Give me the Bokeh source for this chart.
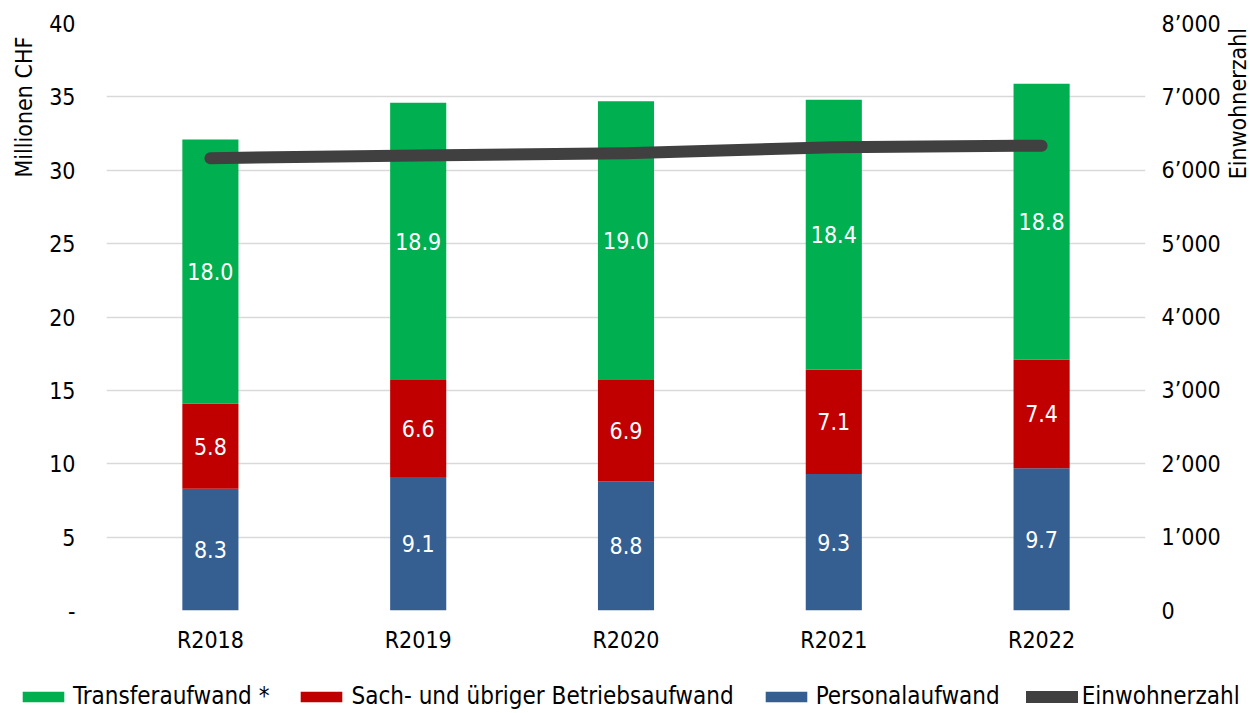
from bokeh.plotting import figure
from bokeh.layouts import column, row
from bokeh.models import (ColumnDataSource, FactorRange, Range1d, LinearAxis,
                          FixedTicker, LabelSet, Label, Legend, LegendItem)
from bokeh.core.properties import value
from bokeh.embed import file_html
from bokeh.resources import INLINE
import math

# Data (Millionen CHF, Einwohnerzahl)
years = ["R2018", "R2019", "R2020", "R2021", "R2022"]
personal = [8.3, 9.1, 8.8, 9.3, 9.7]
sach = [5.8, 6.6, 6.9, 7.1, 7.4]
transfer = [18.0, 18.9, 19.0, 18.4, 18.8]
einwohner = [6165, 6200, 6230, 6315, 6335]

left_ticks = [0, 5, 10, 15, 20, 25, 30, 35, 40]
left_labels = ["-", "5", "10", "15", "20", "25", "30", "35", "40"]
right_ticks = [0, 1000, 2000, 3000, 4000, 5000, 6000, 7000, 8000]
right_labels = ["0", "1\u2019000", "2\u2019000", "3\u2019000", "4\u2019000",
                "5\u2019000", "6\u2019000", "7\u2019000", "8\u2019000"]
series_names = ["Transferaufwand *", "Sach- und \u00fcbriger Betriebsaufwand",
                "Personalaufwand", "Einwohnerzahl"]

GREEN = "#00B050"
RED = "#C00000"
BLUE = "#355E91"
DARK = "#404040"
FONT = "DejaVu Sans Condensed, DejaVu Sans, sans-serif"
FS = "23px"

TOP_H = 670      # height of the chart row
LEFT_W = 40      # strip holding the left axis title
RIGHT_W = 28     # strip holding the right axis title
MAIN_W = 1250 - LEFT_W - RIGHT_W

src = ColumnDataSource(dict(
    year=years, personal=personal, sach=sach, transfer=transfer, einwohner=einwohner,
    y_personal=[v / 2 for v in personal],
    y_sach=[a + b / 2 for a, b in zip(personal, sach)],
    y_transfer=[a + b + c / 2 for a, b, c in zip(personal, sach, transfer)],
    t_personal=[f"{v:.1f}" for v in personal],
    t_sach=[f"{v:.1f}" for v in sach],
    t_transfer=[f"{v:.1f}" for v in transfer],
))

p = figure(x_range=FactorRange(*years), y_range=Range1d(0, 40),
           width=MAIN_W, height=TOP_H, frame_width=1039, frame_height=587,
           output_backend="svg", toolbar_location=None,
           min_border_left=66, min_border_right=MAIN_W - 66 - 1039,
           min_border_top=23, min_border_bottom=TOP_H - 23 - 587)
p.outline_line_color = None
p.background_fill_color = "white"
p.border_fill_color = "white"

p.extra_y_ranges = {"pop": Range1d(0, 8000)}

bars = p.vbar_stack(["personal", "sach", "transfer"], x="year", width=0.27,
                    color=[BLUE, RED, GREEN], line_color=None, source=src)

line = p.line(x="year", y="einwohner", y_range_name="pop", source=src,
              line_color=DARK, line_width=12, line_cap="round", line_join="round")

for ycol, tcol in (("y_personal", "t_personal"), ("y_sach", "t_sach"),
                   ("y_transfer", "t_transfer")):
    p.add_layout(LabelSet(x="year", y=ycol, text=tcol, source=src,
                          text_color="white", text_font=value(FONT),
                          text_font_size=value(FS),
                          text_align="center", text_baseline="middle"))


def style_axis(ax, standoff):
    ax.axis_line_color = None
    ax.major_tick_line_color = None
    ax.minor_tick_line_color = None
    ax.major_tick_out = 0
    ax.major_tick_in = 0
    ax.major_label_standoff = standoff
    ax.major_label_text_font = FONT
    ax.major_label_text_font_size = FS
    ax.major_label_text_color = "black"


style_axis(p.xaxis[0], 16)

yax = p.yaxis[0]
yax.ticker = FixedTicker(ticks=left_ticks)
yax.major_label_overrides = {t: l for t, l in zip(left_ticks, left_labels)}
style_axis(yax, 31)

raxis = LinearAxis(y_range_name="pop", ticker=FixedTicker(ticks=right_ticks),
                   major_label_overrides={t: l for t, l in zip(right_ticks, right_labels)})
style_axis(raxis, 16)
p.add_layout(raxis, "right")

p.xgrid.grid_line_color = None
p.ygrid.ticker = FixedTicker(ticks=left_ticks)
p.ygrid.grid_line_color = "#D9D9D9"
p.ygrid.grid_line_width = 1.5


def blank(w, h):
    f = figure(width=w, height=h, x_range=Range1d(0, w), y_range=Range1d(0, h),
               x_axis_type=None, y_axis_type=None, output_backend="svg",
               toolbar_location=None, min_border=0)
    f.outline_line_color = None
    f.background_fill_color = "white"
    f.border_fill_color = "white"
    return f


# Axis title strips (titles read bottom to top, ending near the top)
left_strip = blank(LEFT_W, TOP_H)
left_strip.add_layout(Label(x=23, y=TOP_H - 15, text="Millionen CHF", angle=math.pi / 2,
                            text_font=FONT, text_font_size=FS, text_color="black",
                            text_align="right", text_baseline="middle"))
right_strip = blank(RIGHT_W, TOP_H)
right_strip.add_layout(Label(x=RIGHT_W / 2, y=TOP_H - 5, text="Einwohnerzahl",
                             angle=math.pi / 2,
                             text_font=FONT, text_font_size=FS, text_color="black",
                             text_align="right", text_baseline="middle"))

# Legend strip under the chart; key renderers sit outside the visible range
leg_fig = blank(1250, 713 - TOP_H)
off = [-1000.0]
k_tr = leg_fig.vbar(x=off, top=off, width=1, color=GREEN, line_color=None)
k_sa = leg_fig.vbar(x=off, top=off, width=1, color=RED, line_color=None)
k_pe = leg_fig.vbar(x=off, top=off, width=1, color=BLUE, line_color=None)
k_ew = leg_fig.line(x=off * 2, y=off * 2, line_color=DARK, line_width=12,
                    line_cap="round")

legend = Legend(items=[LegendItem(label=n, renderers=[r]) for n, r in
                       zip(series_names, [k_tr, k_sa, k_pe, k_ew])],
                orientation="horizontal", location=(17, 3))
legend.glyph_width = 52
legend.glyph_height = 13
legend.label_standoff = 4
legend.spacing = 26
legend.padding = 0
legend.margin = 0
legend.border_line_color = None
legend.background_fill_alpha = 0
legend.label_text_font = FONT
legend.label_text_font_size = "24px"
legend.label_text_color = "black"
leg_fig.add_layout(legend)

layout = column(row(left_strip, p, right_strip, spacing=0), leg_fig, spacing=0)

open("out.html", "w").write(file_html(layout, INLINE))
